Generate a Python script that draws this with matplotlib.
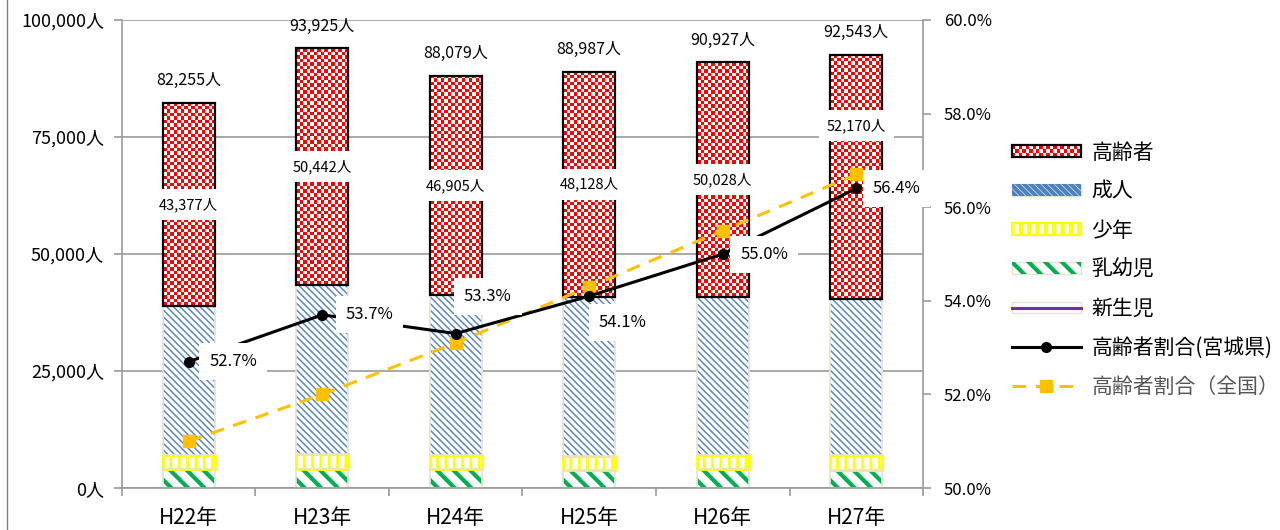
import numpy as np
import matplotlib
matplotlib.use("Agg")
import matplotlib.pyplot as plt
from matplotlib.colors import ListedColormap
from matplotlib.patches import Rectangle, Patch
from matplotlib.lines import Line2D
from matplotlib.legend_handler import HandlerBase, HandlerTuple
from matplotlib.ticker import FuncFormatter, FixedLocator

plt.rcParams['font.family'] = ['Noto Sans CJK JP', 'DejaVu Sans']

# 年別・年齢層別の人数（宮城県）
years = ["H22年", "H23年", "H24年", "H25年", "H26年", "H27年"]
total = np.array([82255, 93925, 88079, 88987, 90927, 92543])
elderly = np.array([43377, 50442, 46905, 48128, 50028, 52170])
youth = np.array([3100, 3200, 3050, 3000, 3150, 3100])
infant = np.array([3950, 3900, 3950, 3850, 3900, 3800])
newborn = np.array([90, 85, 90, 80, 85, 80])
adult = total - elderly - youth - infant - newborn

# 高齢者割合 (%)
rate_miyagi = [52.7, 53.7, 53.3, 54.1, 55.0, 56.4]
rate_japan = [51.0, 52.0, 53.1, 54.3, 55.5, 56.7]

# label placement (points)
pct_offsets = [(32, 0), (34, 0), (23, 27), (24, -19), (30, 0), (29, 0)]
elderly_shift = [0, 0, 0, 0, 0, 37]

BLUE = "#4f81bd"
GREEN = "#00b050"
YELLOW = "#ffff00"
PURPLE = "#7030a0"
BEIGE = "#e6e2d3"
ORANGE = "#ffc000"
GRID = "#9a9a9a"

HATCH_ADULT = "\\" * 5
HATCH_INFANT = "\\\\"
HATCH_YOUTH = "||"


def hatch_lw(patch, lw):
    if hasattr(patch, "set_hatch_linewidth"):
        patch.set_hatch_linewidth(lw)


fig = plt.figure(figsize=(12.8, 5.3), dpi=100)
ax = fig.add_axes([0.0953, 0.0792, 0.6258, 0.8831])
ax2 = ax.twinx()

x = np.arange(len(years))
w = 0.39
ymax = 100000
px_x = 0.6258 * 1280 / 6.0
px_y = 0.8831 * 530 / ymax

bottom = np.zeros(len(years))
ax.bar(x, newborn, w, bottom=bottom, color=PURPLE, lw=0, zorder=2)
bottom = bottom + newborn

plt.rcParams['hatch.linewidth'] = 3.0
bars = ax.bar(x, infant, w, bottom=bottom, facecolor="white", edgecolor=GREEN,
              hatch=HATCH_INFANT, lw=0, zorder=2)
for b in bars:
    hatch_lw(b, 3.0)
ax.bar(x, infant, w, bottom=bottom, facecolor="none", edgecolor=BEIGE, lw=1.2, zorder=2.1)
bottom = bottom + infant

plt.rcParams['hatch.linewidth'] = 2.0
bars = ax.bar(x, youth, w, bottom=bottom, facecolor="white", edgecolor=YELLOW,
              hatch=HATCH_YOUTH, lw=2.0, zorder=2)
for b in bars:
    hatch_lw(b, 2.0)
bottom = bottom + youth

plt.rcParams['hatch.linewidth'] = 1.0
bars = ax.bar(x, adult, w, bottom=bottom, facecolor="white", edgecolor=BLUE,
              hatch=HATCH_ADULT, lw=0, zorder=2)
for b in bars:
    hatch_lw(b, 1.0)
ax.bar(x, adult, w, bottom=bottom, facecolor="none", edgecolor=BEIGE, lw=1.2, zorder=2.1)
bottom = bottom + adult

# 高齢者: checkerboard filled bars
checker = ListedColormap(["#ff0000", "#ffffff"])
cell = 3.5
bars = ax.bar(x, elderly, w, bottom=bottom, facecolor="none", edgecolor="black",
              lw=1.6, zorder=2.5)
for rect in bars:
    x0, y0 = rect.get_x(), rect.get_y()
    bw, bh = rect.get_width(), rect.get_height()
    ncol = max(1, int(round(bw * px_x / cell)))
    nrow = max(1, int(round(bh * px_y / cell)))
    grid = np.indices((nrow, ncol)).sum(axis=0) % 2
    ax.imshow(grid, cmap=checker, vmin=0, vmax=1, extent=(x0, x0 + bw, y0, y0 + bh),
              aspect="auto", interpolation="nearest", origin="lower", zorder=2)

# labels on bars
for i in range(len(years)):
    ax.annotate(f"{total[i]:,}人", (x[i], total[i]), xytext=(0, 16),
                textcoords="offset points", ha="center", va="center", fontsize=11.5,
                zorder=6)
    mid = bottom[i] + elderly[i] / 2
    ax.annotate(f"{elderly[i]:,}人", (x[i], mid), xytext=(0, elderly_shift[i]),
                textcoords="offset points", ha="center", va="center", fontsize=10.5,
                bbox=dict(boxstyle="square,pad=0.55", fc="white", ec="none"), zorder=6)

ax.set_xlim(-0.5, len(years) - 0.5)
ax.set_ylim(0, ymax)
ax.set_yticks(np.arange(0, ymax + 1, 25000))
ax.yaxis.set_major_formatter(FuncFormatter(lambda v, p: f"{int(v):,}人"))
ax.set_xticks(x)
ax.set_xticklabels(years, fontsize=15)
ax.xaxis.set_minor_locator(FixedLocator(np.arange(-0.5, len(years), 1.0)))
ax.tick_params(axis="x", which="major", length=0, pad=14)
ax.tick_params(axis="x", which="minor", length=6, color=GRID, width=1.2, direction="out")
ax.tick_params(axis="y", length=6, color=GRID, width=1.2, labelsize=13, pad=7)
ax.grid(axis="y", color=GRID, lw=1.2)
ax.set_axisbelow(True)
for s in ["top", "right"]:
    ax.spines[s].set_visible(False)
for s in ["left", "bottom"]:
    ax.spines[s].set_color(GRID)
    ax.spines[s].set_linewidth(1.2)

# 高齢者割合 lines
ax2.plot(x, rate_japan, color=ORANGE, lw=2.2, dashes=(4.5, 3.2), marker="s",
         markersize=8, zorder=3)
ax2.plot(x, rate_miyagi, color="black", lw=2.2, marker="o", markersize=7, zorder=4)
for i in range(len(years)):
    ax2.annotate(f"{rate_miyagi[i]:.1f}%", (x[i], rate_miyagi[i]), xytext=pct_offsets[i],
                 textcoords="offset points", ha="center", va="center", fontsize=12,
                 bbox=dict(boxstyle="square,pad=0.6", fc="white", ec="none"), zorder=6)
ax2.set_ylim(50, 60)
ax2.set_yticks(np.arange(50, 60.1, 2))
ax2.yaxis.set_major_formatter(FuncFormatter(lambda v, p: f"{v:.1f}%"))
ax2.tick_params(axis="y", length=6, color=GRID, width=1.2, labelsize=12, pad=9)
for s in ["top", "left", "bottom"]:
    ax2.spines[s].set_visible(False)
ax2.spines["right"].set_color(GRID)
ax2.spines["right"].set_linewidth(1.2)


class HandlerChecker(HandlerBase):
    def create_artists(self, legend, orig_handle, xdescent, ydescent, width, height,
                       fontsize, trans):
        arts = [Rectangle((-xdescent, -ydescent), width, height, fc="white", ec="none",
                          transform=trans)]
        ncol, nrow = 20, 3
        cw, ch = width / ncol, height / nrow
        for r in range(nrow):
            for c in range(ncol):
                if (r + c) % 2 == 0:
                    arts.append(Rectangle((-xdescent + c * cw, -ydescent + r * ch), cw, ch,
                                          fc="#ff0000", ec="none", transform=trans))
        arts.append(Rectangle((-xdescent, -ydescent), width, height, fc="none",
                              ec="black", lw=1.6, transform=trans))
        return arts


h_old = Patch(facecolor="red")
plt.rcParams['hatch.linewidth'] = 1.0
h_adult = (Patch(fc="white", ec=BEIGE, lw=1), Patch(fc="none", ec=BLUE, hatch=HATCH_ADULT, lw=0))
plt.rcParams['hatch.linewidth'] = 2.0
h_youth = (Patch(fc="white", ec=BEIGE, lw=1), Patch(fc="none", ec=YELLOW, hatch=HATCH_YOUTH, lw=1.5))
plt.rcParams['hatch.linewidth'] = 3.0
h_infant = (Patch(fc="white", ec=BEIGE, lw=1), Patch(fc="none", ec=GREEN, hatch=HATCH_INFANT, lw=0))
hatch_lw(h_adult[1], 1.0)
hatch_lw(h_youth[1], 2.0)
hatch_lw(h_infant[1], 3.0)
h_new = (Patch(fc="white", ec=BEIGE, lw=1), Line2D([], [], color=PURPLE, lw=2.2))
h_miyagi = Line2D([], [], color="black", lw=2.2, marker="o", markersize=7)
h_japan = Line2D([], [], color=ORANGE, lw=2.2, dashes=(4.5, 3.2), marker="s", markersize=8)

leg = fig.legend([h_old, h_adult, h_youth, h_infant, h_new, h_miyagi, h_japan],
                 ["高齢者", "成人", "少年", "乳幼児", "新生児", "高齢者割合(宮城県)", "高齢者割合（全国）"],
                 handler_map={h_old: HandlerChecker(), tuple: HandlerTuple(ndivide=1)},
                 loc="upper left", bbox_to_anchor=(0.7906, 0.733), frameon=False,
                 fontsize=15, handlelength=3.3, handleheight=0.5, handletextpad=0.5,
                 labelspacing=0.82, borderpad=0, borderaxespad=0)
leg.get_texts()[-1].set_color("#555555")

fig.add_artist(Line2D([7 / 1280, 7 / 1280], [0, 1], color="#808080", lw=1))

fig.savefig("out.png", dpi=100)
